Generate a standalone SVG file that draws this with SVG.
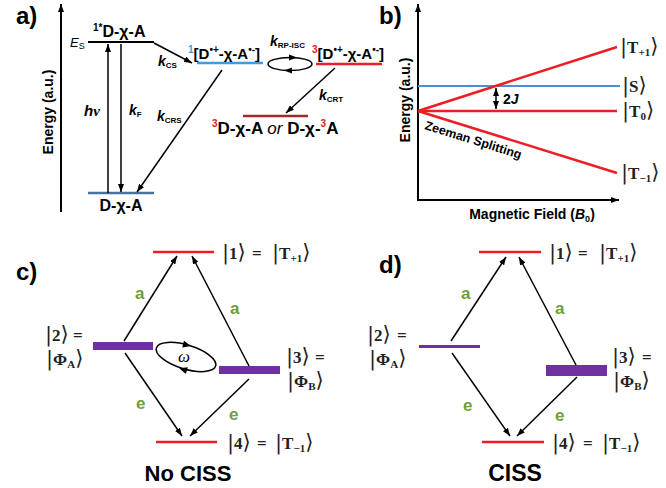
<svg xmlns="http://www.w3.org/2000/svg" width="666" height="488" viewBox="0 0 666 488">
<defs>
<marker id="ah" viewBox="0 0 8 6" refX="8" refY="3" markerWidth="8" markerHeight="6" markerUnits="userSpaceOnUse" orient="auto-start-reverse"><path d="M0,0 L8,3 L0,6 z" fill="#000"/></marker>
<style>
.t{font-family:"Liberation Sans",Arial,sans-serif;font-weight:bold;fill:#000}
.s{font-family:"Liberation Serif","DejaVu Serif",serif;font-weight:bold;fill:#222;font-size:17px}
.b{font-family:"DejaVu Serif","Liberation Serif",serif;font-weight:normal;font-size:21px}
.sub{font-size:11px}
.it{font-style:italic}
.ar{stroke:#000;stroke-width:1.5;fill:none;marker-end:url(#ah)}
.ax{stroke:#000;stroke-width:2;fill:none}
.red{stroke:#ee1c24;stroke-width:2.5}
.pur{fill:#7030a0}
.g{fill:#6d9f3c;font-family:"Liberation Sans",Arial,sans-serif;font-weight:bold;font-size:17px}
</style>
</defs>
<rect width="666" height="488" fill="#fff"/>

<!-- Panel a -->
<g id="panel-a">
<text class="t" x="16" y="24" font-size="24">a)</text>
<line class="ax" x1="61" y1="212" x2="61" y2="4" marker-end="url(#ah)"/>
<text class="t" font-size="14" text-anchor="middle" transform="translate(53,112) rotate(-90)">Energy (a.u.)</text>
</g>
<g id="node-Es">
<line x1="88" y1="42" x2="154" y2="42" stroke="#000" stroke-width="2"/>
<text class="t" x="70" y="47" font-size="13"><tspan class="it" font-weight="normal">E</tspan><tspan font-size="9" font-weight="normal" dy="2">S</tspan></text>
<text class="t" x="93" y="37" font-size="16"><tspan font-size="10" dy="-6">1*</tspan><tspan dy="6">D-χ-A</tspan></text>
</g>
<g id="node-ground">
<line x1="88" y1="193" x2="154" y2="193" stroke="#47719e" stroke-width="2.5"/>
<text class="t" x="121" y="211" font-size="16" text-anchor="middle">D-χ-A</text>
</g>
<g id="node-singletRP">
<line x1="197" y1="63" x2="263" y2="63" stroke="#3d9be0" stroke-width="2.5"/>
<text class="t" x="188" y="59" font-size="15"><tspan fill="#3d9be0" font-size="10" dy="-6">1</tspan><tspan dy="6">[D</tspan><tspan font-size="10" dy="-6">•+</tspan><tspan dy="6">-χ-A</tspan><tspan font-size="10" dy="-6">•-</tspan><tspan dy="6">]</tspan></text>
</g>
<g id="node-tripletRP">
<line x1="316" y1="64" x2="382" y2="64" stroke="#ee1c24" stroke-width="2.5"/>
<text class="t" x="312" y="59" font-size="15"><tspan fill="#e02020" font-size="10" dy="-6">3</tspan><tspan dy="6">[D</tspan><tspan font-size="10" dy="-6">•+</tspan><tspan dy="6">-χ-A</tspan><tspan font-size="10" dy="-6">•-</tspan><tspan dy="6">]</tspan></text>
</g>
<g id="node-triplet">
<line x1="243" y1="116" x2="308" y2="116" stroke="#a3292b" stroke-width="2.5"/>
<text class="t" x="212" y="134" font-size="17"><tspan fill="#e02020" font-size="10" dy="-7">3</tspan><tspan dy="7">D-χ-A </tspan><tspan class="it" font-weight="normal">or</tspan><tspan> D-χ-</tspan><tspan fill="#e02020" font-size="10" dy="-7">3</tspan><tspan dy="7">A</tspan></text>
</g>
<g id="connectors-a">
<line class="ar" x1="108" y1="193" x2="108" y2="44"/>
<line class="ar" x1="121" y1="44" x2="121" y2="192"/>
<line class="ar" x1="154" y1="43" x2="192" y2="63"/>
<line class="ar" x1="222" y1="70" x2="137" y2="192"/>
<line class="ar" x1="335" y1="68" x2="286" y2="113"/>
<ellipse cx="290" cy="64" rx="22" ry="6.5" fill="none" stroke="#000" stroke-width="1.5"/>
<polygon points="-4,-3 4,0 -4,3" transform="translate(293,57.5)"/>
<polygon points="-4,-3 4,0 -4,3" transform="translate(288,70.5) rotate(180)"/>
<text class="t" x="84" y="116" font-size="15"><tspan class="it">h</tspan><tspan font-family="'Liberation Serif',serif" font-style="italic">ν</tspan></text>
<text class="t" x="129" y="115" font-size="14"><tspan class="it">k</tspan><tspan font-size="8" dy="2">F</tspan></text>
<text class="t" x="158" y="66" font-size="14"><tspan class="it">k</tspan><tspan font-size="8" dy="2">CS</tspan></text>
<text class="t" x="157" y="121" font-size="14"><tspan class="it">k</tspan><tspan font-size="8" dy="2">CRS</tspan></text>
<text class="t" x="270" y="46" font-size="14"><tspan class="it">k</tspan><tspan font-size="8" dy="2">RP-ISC</tspan></text>
<text class="t" x="319" y="100" font-size="14"><tspan class="it">k</tspan><tspan font-size="8" dy="2">CRT</tspan></text>
</g>

<!-- Panel b -->
<g id="panel-b">
<text class="t" x="379" y="24" font-size="24">b)</text>
<line class="ax" x1="418" y1="201" x2="418" y2="4" marker-end="url(#ah)"/>
<line class="ax" x1="417" y1="200" x2="619" y2="200" marker-end="url(#ah)"/>
<text class="t" font-size="14" text-anchor="middle" transform="translate(410,100) rotate(-90)">Energy (a.u.)</text>
<text class="t" x="532" y="219" font-size="14" text-anchor="middle">Magnetic Field (<tspan class="it">B</tspan><tspan font-size="9" dy="3">0</tspan><tspan dy="-3">)</tspan></text>
</g>
<g id="node-S">
<line x1="418" y1="86" x2="620" y2="86" stroke="#4d8fcf" stroke-width="2"/>
<text class="s" x="622" y="92"><tspan class="b">|</tspan>S<tspan class="b">⟩</tspan></text>
</g>
<g id="node-Tp1">
<line class="red" x1="418" y1="111" x2="617" y2="47" stroke-width="2"/>
<text class="s" x="620" y="53"><tspan class="b">|</tspan>T<tspan class="sub" dy="3">+1</tspan><tspan class="b" dy="-3">⟩</tspan></text>
</g>
<g id="node-T0">
<line class="red" x1="418" y1="111" x2="617" y2="111" stroke-width="2"/>
<text class="s" x="622" y="117"><tspan class="b">|</tspan>T<tspan class="sub" dy="3">0</tspan><tspan class="b" dy="-3">⟩</tspan></text>
</g>
<g id="node-Tm1">
<line class="red" x1="418" y1="111" x2="617" y2="173" stroke-width="2"/>
<text class="s" x="621" y="179"><tspan class="b">|</tspan>T<tspan class="sub" dy="3">−1</tspan><tspan class="b" dy="-3">⟩</tspan></text>
</g>
<g id="connectors-b">
<line x1="496" y1="88" x2="496" y2="109" stroke="#000" stroke-width="1.5" marker-start="url(#ah)" marker-end="url(#ah)"/>
<text class="t" x="503" y="104" font-size="14">2<tspan class="it">J</tspan></text>
<text class="t" x="424" y="129" font-size="12.5" transform="rotate(17.3,424,129)">Zeeman Splitting</text>
</g>

<!-- Panel c -->
<g id="panel-c">
<text class="t" x="16" y="280" font-size="24">c)</text>
<text class="t" x="188" y="481" font-size="22" text-anchor="middle">No CISS</text>
</g>
<g id="c-node1">
<line class="red" x1="153" y1="252" x2="214" y2="252"/>
<text class="s" y="259"><tspan x="222" class="b">|</tspan>1<tspan class="b">⟩</tspan><tspan x="252">=</tspan><tspan x="272" class="b">|</tspan>T<tspan class="sub" dy="3">+1</tspan><tspan class="b" dy="-3">⟩</tspan></text>
</g>
<g id="c-node2">
<rect class="pur" x="93" y="342" width="60" height="8"/>
<text class="s" y="341"><tspan x="45" class="b">|</tspan>2<tspan class="b">⟩</tspan><tspan x="73">=</tspan></text>
<text class="s" x="46" y="365"><tspan class="b">|</tspan>Φ<tspan class="sub" dy="3">A</tspan><tspan class="b" dy="-3">⟩</tspan></text>
</g>
<g id="c-node3">
<rect class="pur" x="219" y="366" width="61" height="8"/>
<text class="s" y="363"><tspan x="286" class="b">|</tspan>3<tspan class="b">⟩</tspan><tspan x="315">=</tspan></text>
<text class="s" x="287" y="387"><tspan class="b">|</tspan>Φ<tspan class="sub" dy="3">B</tspan><tspan class="b" dy="-3">⟩</tspan></text>
</g>
<g id="c-node4">
<line class="red" x1="156" y1="442" x2="217" y2="442"/>
<text class="s" y="449"><tspan x="227" class="b">|</tspan>4<tspan class="b">⟩</tspan><tspan x="257">=</tspan><tspan x="275" class="b">|</tspan>T<tspan class="sub" dy="3">−1</tspan><tspan class="b" dy="-3">⟩</tspan></text>
</g>
<g id="connectors-c">
<line class="ar" x1="124" y1="341" x2="177" y2="256"/>
<line class="ar" x1="249" y1="366" x2="192" y2="256"/>
<line class="ar" x1="125" y1="353" x2="182" y2="436"/>
<line class="ar" x1="249" y1="379" x2="190" y2="436"/>
<text class="g" x="135" y="299">a</text>
<text class="g" x="230" y="314">a</text>
<text class="g" x="136" y="409">e</text>
<text class="g" x="229" y="420">e</text>
<ellipse cx="186" cy="357" rx="31" ry="12" fill="none" stroke="#000" stroke-width="1.5" transform="rotate(17,186,357)"/>
<polygon points="-4,-3.5 4,0 -4,3.5" transform="translate(187,345) rotate(14)"/>
<polygon points="-4,-3.5 4,0 -4,3.5" transform="translate(183,369.5) rotate(197)"/>
<text x="184" y="362" font-family="'Liberation Serif','DejaVu Serif',serif" font-style="italic" font-size="17" text-anchor="middle">ω</text>
</g>

<!-- Panel d -->
<g id="panel-d">
<text class="t" x="379" y="273" font-size="24">d)</text>
<text class="t" x="515" y="481" font-size="23" text-anchor="middle">CISS</text>
</g>
<g id="d-node1">
<line class="red" x1="479" y1="252" x2="541" y2="252"/>
<text class="s" y="259"><tspan x="549" class="b">|</tspan>1<tspan class="b">⟩</tspan><tspan x="578">=</tspan><tspan x="599" class="b">|</tspan>T<tspan class="sub" dy="3">+1</tspan><tspan class="b" dy="-3">⟩</tspan></text>
</g>
<g id="d-node2">
<rect class="pur" x="419" y="345" width="61" height="3"/>
<text class="s" y="341"><tspan x="367" class="b">|</tspan>2<tspan class="b">⟩</tspan><tspan x="397">=</tspan></text>
<text class="s" x="369" y="365"><tspan class="b">|</tspan>Φ<tspan class="sub" dy="3">A</tspan><tspan class="b" dy="-3">⟩</tspan></text>
</g>
<g id="d-node3">
<rect class="pur" x="546" y="365" width="61" height="11"/>
<text class="s" y="363"><tspan x="612" class="b">|</tspan>3<tspan class="b">⟩</tspan><tspan x="642">=</tspan></text>
<text class="s" x="613" y="387"><tspan class="b">|</tspan>Φ<tspan class="sub" dy="3">B</tspan><tspan class="b" dy="-3">⟩</tspan></text>
</g>
<g id="d-node4">
<line class="red" x1="482" y1="442" x2="544" y2="442"/>
<text class="s" y="449"><tspan x="552" class="b">|</tspan>4<tspan class="b">⟩</tspan><tspan x="583">=</tspan><tspan x="602" class="b">|</tspan>T<tspan class="sub" dy="3">−1</tspan><tspan class="b" dy="-3">⟩</tspan></text>
</g>
<g id="connectors-d">
<line class="ar" x1="451" y1="341" x2="506" y2="257"/>
<line class="ar" x1="576" y1="365" x2="519" y2="257"/>
<line class="ar" x1="452" y1="353" x2="510" y2="436"/>
<line class="ar" x1="577" y1="377" x2="517" y2="436"/>
<text class="g" x="461" y="299">a</text>
<text class="g" x="555" y="314">a</text>
<text class="g" x="463" y="411">e</text>
<text class="g" x="555" y="421">e</text>
</g>
</svg>
